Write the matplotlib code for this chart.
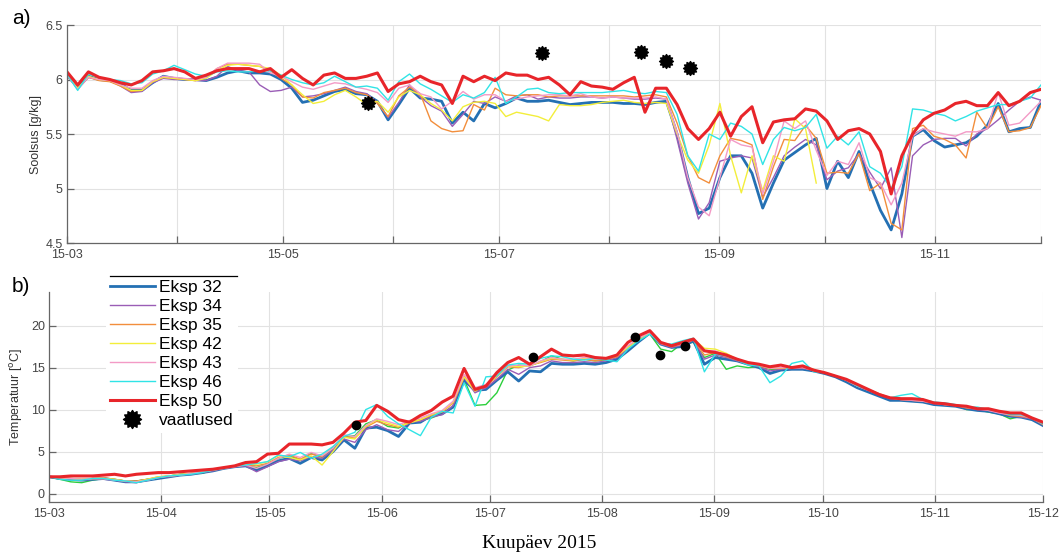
import numpy as np
import pandas as pd
import matplotlib
matplotlib.use("Agg")
import matplotlib.pyplot as plt
from matplotlib.lines import Line2D
from matplotlib.path import Path

plt.rcParams['font.family'] = ['Liberation Sans', 'DejaVu Sans']

nan = np.nan

# ---------------------------------------------------------------- data
# model output sampled every ~3 days, 1 Mar 2015 -> 1 Dec 2015
dates = pd.date_range('2015-03-01', '2015-12-01', periods=92)

series_labels = ['Eksp 32', 'Eksp 34', 'Eksp 35', 'Eksp 42', 'Eksp 43', 'Eksp 46', 'Eksp 50']

# salinity [g/kg]
sal_32 = [6.04, 5.93, 6.03, 6.00, 5.99, 5.96, 5.90, 5.90, 5.97, 6.03,
          6.01, 6.00, 6.00, 5.99, 6.02, 6.06, 6.08, 6.06, 6.06, 6.05,
          6.00, 5.92, 5.79, 5.81, 5.85, 5.89, 5.91, 5.87, 5.86, 5.80,
          5.63, 5.77, 5.92, 5.83, 5.82, 5.80, 5.60, 5.70, 5.62, 5.78,
          5.74, 5.78, 5.83, 5.80, 5.80, 5.81, 5.79, 5.77, 5.78, 5.79,
          5.79, 5.79, 5.78, 5.78, 5.77, 5.79, 5.80, 5.50, 5.10, 4.77,
          4.82, 5.10, 5.30, 5.30, 5.14, 4.82, 5.05, 5.26, 5.33, 5.40,
          5.46, 5.00, 5.25, 5.10, 5.34, 5.05, 4.80, 4.62, 4.95, 5.48,
          5.54, 5.44, 5.38, 5.40, 5.42, 5.48, 5.58, 5.78, 5.52, 5.55,
          5.56, 5.80]
sal_34 = [6.04, 5.91, 6.02, 6.00, 5.99, 5.94, 5.88, 5.89, 5.97, 6.01,
          6.00, 6.00, 5.99, 5.99, 6.03, 6.12, 6.08, 6.07, 5.95, 5.89,
          5.90, 5.93, 5.84, 5.85, 5.87, 5.90, 5.93, 5.89, 5.87, 5.79,
          5.65, 5.79, 5.95, 5.84, 5.76, 5.71, 5.57, 5.68, 5.80, 5.78,
          5.84, 5.80, 5.85, 5.86, 5.82, 5.84, 5.83, 5.83, 5.84, 5.84,
          5.83, 5.84, 5.83, 5.82, 5.82, 5.83, 5.82, 5.45, 5.05, 4.72,
          4.87, 5.25, 5.28, 5.30, 5.28, 4.92, 5.10, 5.30, 5.38, 5.45,
          5.40, 5.08, 5.16, 5.19, 5.32, 5.15, 5.00, 5.19, 4.55, 5.30,
          5.40, 5.45, 5.46, 5.46, 5.39, 5.50, 5.55, 5.63, 5.72, 5.80,
          5.84, 5.81]
sal_35 = [6.04, 5.92, 6.02, 5.99, 5.98, 5.94, 5.89, 5.90, 5.98, 6.02,
          6.01, 6.00, 5.99, 6.02, 6.10, 6.14, 6.14, 6.13, 6.12, 6.08,
          6.01, 5.95, 5.84, 5.83, 5.88, 5.90, 5.92, 5.88, 5.86, 5.78,
          5.66, 5.85, 5.93, 5.87, 5.62, 5.55, 5.52, 5.53, 5.77, 5.72,
          5.92, 5.86, 5.85, 5.86, 5.86, 5.84, 5.85, 5.85, 5.85, 5.85,
          5.85, 5.85, 5.85, 5.84, 5.85, 5.86, 5.84, 5.60, 5.30, 5.10,
          5.05, 5.30, 5.46, 5.44, 5.40, 4.90, 5.20, 5.45, 5.44, 5.58,
          5.46, 5.14, 5.15, 5.14, 5.32, 4.98, 5.05, 4.68, 4.62, 5.55,
          5.58, 5.48, 5.45, 5.40, 5.28, 5.70, 5.55, 5.75, 5.52, 5.53,
          5.56, 5.76]
sal_42 = [6.04, 5.92, 6.03, 6.00, 5.99, 5.95, 5.90, 5.90, 5.98, 6.02,
          6.01, 6.00, 5.99, 6.01, 6.08, 6.13, 6.14, 6.13, 6.12, 6.10,
          6.04, 5.95, 5.86, 5.78, 5.80, 5.86, 5.90, 5.84, 5.77, 5.80,
          5.70, 5.84, 5.90, 5.86, 5.78, 5.72, 5.62, 5.75, 5.79, 5.80,
          5.78, 5.66, 5.70, 5.68, 5.66, 5.62, 5.77, 5.76, 5.76, 5.77,
          5.79, 5.80, 5.81, 5.79, 5.78, 5.79, 5.78, 5.50, 5.26, 5.14,
          5.40, 5.78, 5.30, 4.96, 5.30, 4.98, 5.30, 5.25, 5.64, 5.55,
          5.05, nan, nan, nan, nan, nan, nan, nan, nan, nan,
          nan, nan, nan, nan, nan, nan, nan, nan, nan, nan,
          nan, nan]
sal_43 = [6.04, 5.91, 6.02, 6.00, 5.99, 5.95, 5.92, 5.92, 5.99, 6.03,
          6.02, 6.01, 6.00, 6.02, 6.10, 6.15, 6.15, 6.15, 6.14, 6.06,
          6.03, 5.98, 5.93, 5.91, 5.94, 5.97, 5.96, 5.93, 5.91, 5.88,
          5.79, 5.92, 5.95, 5.87, 5.84, 5.73, 5.80, 5.89, 5.82, 5.86,
          5.86, 5.80, 5.82, 5.84, 5.85, 5.86, 5.86, 5.85, 5.87, 5.84,
          5.83, 5.84, 5.83, 5.83, 5.83, 5.84, 5.82, 5.52, 5.10, 4.83,
          4.75, 5.10, 5.45, 5.40, 5.38, 4.95, 5.25, 5.62, 5.55, 5.62,
          5.35, 5.12, 5.25, 5.22, 5.42, 5.10, 5.05, 4.85, 5.05, 5.48,
          5.55, 5.52, 5.50, 5.48, 5.52, 5.52, 5.55, 5.88, 5.58, 5.60,
          5.70, 5.80]
sal_46 = [6.05, 5.90, 6.05, 6.02, 6.00, 5.99, 5.96, 5.97, 6.05, 6.08,
          6.13, 6.09, 6.05, 6.03, 6.07, 6.08, 6.07, 6.07, 6.08, 6.08,
          6.04, 6.00, 5.97, 5.95, 5.97, 6.03, 5.98, 5.93, 5.94, 5.92,
          5.81, 5.98, 6.05, 5.96, 5.91, 5.85, 5.79, 5.86, 5.83, 5.88,
          6.02, 5.78, 5.84, 5.91, 5.92, 5.88, 5.87, 5.88, 5.88, 5.88,
          5.88, 5.89, 5.90, 5.88, 5.87, 5.89, 5.88, 5.68, 5.30, 5.16,
          5.50, 5.45, 5.60, 5.57, 5.50, 5.22, 5.45, 5.56, 5.53, 5.56,
          5.68, 5.37, 5.48, 5.40, 5.52, 5.20, 5.14, 5.00, 5.20, 5.73,
          5.72, 5.69, 5.67, 5.62, 5.66, 5.71, 5.74, 5.77, 5.77, 5.80,
          5.83, 5.95]
sal_50 = [6.07, 5.95, 6.07, 6.02, 6.00, 5.97, 5.95, 5.99, 6.07, 6.08,
          6.10, 6.07, 6.01, 6.04, 6.08, 6.10, 6.10, 6.10, 6.07, 6.10,
          6.02, 6.09, 6.01, 5.95, 6.04, 6.06, 6.01, 6.01, 6.03, 6.06,
          5.89, 5.96, 5.98, 6.03, 5.98, 5.95, 5.78, 6.03, 5.98, 6.03,
          5.99, 6.06, 6.04, 6.04, 6.00, 6.02, 5.95, 5.86, 5.98, 5.94,
          5.93, 5.91, 5.97, 6.02, 5.70, 5.92, 5.92, 5.77, 5.55, 5.45,
          5.55, 5.70, 5.48, 5.66, 5.75, 5.42, 5.61, 5.63, 5.64, 5.73,
          5.71, 5.62, 5.45, 5.53, 5.55, 5.50, 5.34, 4.95, 5.30, 5.50,
          5.63, 5.69, 5.72, 5.78, 5.80, 5.76, 5.76, 5.88, 5.76, 5.80,
          5.88, 5.91]

# temperature [degC]
temp_32 = [2.0, 1.8, 1.7, 1.6, 1.7, 1.8, 1.6, 1.4, 1.4, 1.6,
           1.8, 2.0, 2.2, 2.3, 2.5, 2.7, 3.0, 3.2, 3.3, 2.8,
           3.3, 3.9, 4.2, 3.6, 4.3, 4.0, 5.0, 6.4, 5.4, 7.8,
           7.9, 7.5, 6.8, 8.4, 8.5, 9.3, 9.5, 10.3, 13.5, 12.3,
           12.4, 13.5, 14.5, 13.4, 14.6, 14.5, 15.5, 15.4, 15.4, 15.5,
           15.4, 15.6, 16.0, 17.0, 18.1, 19.1, 17.8, 17.4, 17.5, 18.2,
           15.4, 16.2, 16.0, 15.8, 15.4, 15.0, 14.3, 14.7, 14.8, 14.8,
           14.6, 14.3, 13.9, 13.3, 12.6, 12.1, 11.6, 11.1, 11.1, 11.0,
           10.9, 10.6, 10.5, 10.4, 10.1, 9.9, 9.8, 9.5, 9.2, 9.1,
           8.8, 8.1]
temp_34 = [2.0, 1.8, 1.7, 1.6, 1.7, 1.7, 1.6, 1.4, 1.3, 1.6,
           1.9, 2.0, 2.2, 2.3, 2.5, 2.7, 3.0, 3.2, 3.3, 2.6,
           3.2, 3.8, 4.1, 3.9, 4.4, 4.2, 5.2, 6.5, 6.1, 7.6,
           8.2, 7.6, 7.4, 8.5, 8.6, 9.1, 9.4, 10.5, 13.8, 12.0,
           12.6, 13.6, 14.8, 14.2, 15.0, 15.2, 15.8, 15.6, 15.6, 15.7,
           15.6, 15.8, 16.2, 17.2, 18.3, 19.2, 17.8, 17.4, 17.7, 18.3,
           16.0, 16.5, 16.2, 15.8, 15.4, 15.1, 14.6, 14.8, 14.9, 14.9,
           14.7, 14.4, 14.0, 13.5, 12.8, 12.3, 11.8, 11.3, 11.2, 11.1,
           11.0, 10.7, 10.6, 10.5, 10.2, 10.0, 9.9, 9.6, 9.3, 9.1,
           8.9, 8.2]
temp_35 = [2.0, 1.9, 1.8, 1.7, 1.8, 1.9, 1.7, 1.5, 1.5, 1.7,
           2.0, 2.1, 2.2, 2.4, 2.6, 2.8, 3.1, 3.3, 3.4, 3.3,
           3.6, 4.3, 4.6, 4.1, 4.7, 4.4, 5.5, 6.8, 6.6, 7.9,
           8.6, 8.2, 7.9, 8.6, 8.8, 9.3, 9.7, 10.8, 14.0, 12.3,
           12.8, 13.9, 15.1, 15.0, 15.3, 15.6, 16.0, 15.9, 15.8, 16.0,
           15.8, 16.0, 16.3, 17.5, 18.4, 19.2, 17.9, 17.5, 17.8, 18.3,
           16.5, 16.8, 16.3, 15.9, 15.5, 15.2, 14.9, 14.9, 15.0, 15.0,
           14.7, 14.4, 14.0, 13.5, 12.8, 12.4, 11.9, 11.4, 11.2, 11.1,
           11.0, 10.8, 10.6, 10.5, 10.2, 10.1, 10.0, 9.7, 9.3, 9.2,
           9.0, 8.2]
temp_42 = [2.0, 1.9, 1.8, 1.7, 1.8, 1.8, 1.7, 1.5, 1.4, 1.7,
           2.0, 2.1, 2.3, 2.4, 2.6, 2.8, 3.1, 3.3, 3.5, 3.5,
           3.8, 4.5, 4.3, 4.0, 4.5, 3.4, 5.0, 6.7, 6.5, 8.0,
           8.8, 8.4, 8.0, 8.4, 8.8, 9.4, 9.8, 10.9, 13.9, 12.2,
           12.9, 14.0, 15.2, 15.1, 15.2, 15.7, 16.1, 16.0, 15.9, 16.1,
           16.0, 16.1, 16.4, 17.4, 18.3, 19.1, 17.9, 17.6, 17.9, 18.4,
           17.3, 17.2, 16.7, 16.0, 15.6, 15.3, 15.0, 15.0, 15.0, 15.1,
           14.8, nan, nan, nan, nan, nan, nan, nan, nan, nan,
           nan, nan, nan, nan, nan, nan, nan, nan, nan, nan,
           nan, nan]
temp_43 = [2.0, 1.9, 1.8, 1.7, 1.8, 1.8, 1.6, 1.5, 1.4, 1.6,
           1.9, 2.1, 2.2, 2.4, 2.6, 2.8, 3.0, 3.2, 3.4, 3.0,
           3.5, 4.2, 4.7, 4.3, 4.9, 4.5, 5.4, 7.0, 6.8, 8.1,
           8.9, 8.6, 8.2, 8.7, 9.0, 9.5, 9.9, 11.0, 14.2, 12.6,
           13.0, 14.1, 15.2, 15.3, 15.2, 15.8, 16.2, 16.0, 16.0, 16.2,
           16.0, 16.1, 16.5, 17.6, 18.5, 19.2, 17.9, 17.6, 17.8, 18.4,
           17.0, 17.0, 16.4, 16.0, 15.5, 15.3, 14.9, 15.0, 15.0, 15.0,
           14.7, 14.4, 14.0, 13.5, 12.8, 12.3, 11.8, 11.4, 11.2, 11.1,
           11.0, 10.8, 10.6, 10.5, 10.3, 10.1, 9.9, 9.6, 9.4, 9.3,
           9.0, 8.3]
temp_46 = [2.0, 1.7, 1.6, 1.6, 1.8, 1.8, 1.6, 1.5, 1.3, 1.6,
           1.9, 2.1, 2.2, 2.3, 2.5, 2.8, 3.0, 3.3, 3.4, 3.6,
           3.8, 4.6, 4.4, 4.9, 4.2, 4.7, 5.6, 6.8, 7.3, 10.0,
           10.6, 9.2, 8.3, 7.6, 6.9, 9.1, 9.8, 9.6, 13.2, 10.4,
           13.9, 14.0, 15.3, 15.5, 15.4, 16.1, 16.4, 16.3, 16.0, 15.9,
           16.1, 15.9, 15.7, 17.2, 18.2, 19.0, 17.9, 17.8, 18.2, 18.5,
           14.5, 16.6, 16.4, 15.9, 15.3, 15.2, 13.2, 14.0, 15.5, 15.8,
           14.5, 14.4, 14.0, 13.6, 12.8, 12.4, 11.8, 11.4, 11.7, 11.9,
           11.2, 10.9, 10.8, 10.6, 10.3, 10.3, 10.0, 9.8, 9.4, 9.4,
           9.0, 8.3]
temp_50 = [2.0, 2.0, 2.1, 2.1, 2.1, 2.2, 2.3, 2.1, 2.3, 2.4,
           2.5, 2.5, 2.6, 2.7, 2.8, 2.9, 3.1, 3.3, 3.7, 3.8,
           4.7, 4.8, 5.9, 5.9, 5.9, 5.8, 6.1, 7.2, 8.5, 8.7,
           10.5, 9.8, 8.8, 8.5, 9.3, 9.9, 10.9, 11.6, 14.9, 12.4,
           12.8, 14.4, 15.6, 16.2, 15.4, 16.3, 17.2, 16.5, 16.4, 16.5,
           16.2, 16.1, 16.5, 18.0, 18.8, 19.4, 18.0, 17.6, 18.0, 18.4,
           17.0, 16.8, 16.5, 16.0, 15.6, 15.4, 15.1, 15.3, 15.0, 15.2,
           14.7, 14.4, 14.0, 13.6, 13.0, 12.4, 11.8, 11.4, 11.3, 11.3,
           11.2, 10.8, 10.7, 10.5, 10.4, 10.1, 10.1, 9.8, 9.6, 9.6,
           9.0, 8.5]
# an extra run shown in the temperature panel without a legend entry
temp_extra = [2.0, 1.7, 1.4, 1.3, 1.6, 1.8, 1.7, 1.5, 1.5, 1.7,
              1.9, 2.1, 2.3, 2.4, 2.4, 2.8, 3.0, 3.2, 3.3, 3.1,
              3.5, 4.2, 4.5, 4.0, 4.8, 4.3, 5.3, 6.8, 6.9, 8.3,
              8.8, 8.0, 7.8, 8.6, 8.7, 9.0, 9.5, 10.3, 13.6, 10.5,
              10.6, 12.0, 14.7, 15.3, 15.2, 15.7, 16.4, 16.0, 15.8, 16.0,
              15.8, 15.9, 16.4, 17.4, 18.4, 19.0, 17.2, 16.9, 17.9, 18.0,
              16.2, 16.7, 14.8, 15.2, 15.0, 15.1, 14.8, 14.8, 14.9, 14.8,
              14.6, 14.4, 14.0, 13.3, 12.7, 12.2, 11.7, 11.2, 11.1, 11.0,
              10.9, 10.7, 10.6, 10.5, 10.0, 10.0, 9.7, 9.5, 8.9, 9.2,
              8.8, 8.2]

# field observations
obs_dates = pd.to_datetime(['2015-05-25', '2015-07-13', '2015-08-10', '2015-08-17', '2015-08-24'])
obs_salinity = [5.78, 6.24, 6.25, 6.17, 6.11]
obs_temperature = [8.2, 16.3, 18.7, 16.5, 17.6]

# ---------------------------------------------------------------- style
salinity = [sal_32, sal_34, sal_35, sal_42, sal_43, sal_46, sal_50]
temperature = [temp_32, temp_34, temp_35, temp_42, temp_43, temp_46, temp_50]
line_colors = ['#2470b3', '#9a5db6', '#f28e3c', '#f3ee3a', '#f39ac6', '#30e4e6', '#e8252a']
line_widths = [2.0, 1.0, 1.0, 1.0, 1.0, 1.0, 2.2]
extra_color = '#2ccf3c'

grid_col = '#e2e2e2'
axis_col = '#666666'
tick_txt = '#444444'

star = Path.unit_regular_star(12, 0.72)

W, H = 1061, 553
fig = plt.figure(figsize=(W / 100, H / 100), dpi=100)


def px_axes(x0, y0, x1, y1):
    return fig.add_axes([x0 / W, 1 - y1 / H, (x1 - x0) / W, (y1 - y0) / H])


ax1 = px_axes(67, 25, 1041, 243)
ax2 = px_axes(49, 292, 1043, 502)

months = pd.date_range('2015-03-01', '2015-12-01', freq='MS')
month_labels = [m.strftime('%y-%m') for m in months]

for ax in (ax1, ax2):
    ax.set_xlim(months[0], months[-1])
    ax.set_xticks(months)
    ax.grid(True, color=grid_col, lw=0.8)
    ax.set_axisbelow(True)
    for s in ('top', 'right'):
        ax.spines[s].set_visible(False)
    for s in ('left', 'bottom'):
        ax.spines[s].set_color(axis_col)
        ax.spines[s].set_linewidth(0.9)
    ax.tick_params(direction='in', length=5, width=0.9, color=axis_col,
                   labelcolor=tick_txt, labelsize=9)
    ax.tick_params(axis='x', pad=4.5)
    ax.tick_params(axis='y', pad=3)

# salinity panel
for vals, c, lw in zip(salinity, line_colors, line_widths):
    ax1.plot(dates, vals, color=c, lw=lw, solid_joinstyle='round')
ax1.plot(obs_dates, obs_salinity, ls='none', marker=star, ms=10, color='black')
ax1.set_ylim(4.5, 6.5)
ax1.set_yticks([4.5, 5, 5.5, 6, 6.5])
ax1.set_yticklabels(['4.5', '5', '5.5', '6', '6.5'])
ax1.set_xticklabels([lab if i % 2 == 0 else '' for i, lab in enumerate(month_labels)])
ax1.set_ylabel('Soolsus [g/kg]', fontsize=9, color='#333333')
ax1.yaxis.set_label_coords(-0.026, 0.5)

# temperature panel
ax2.plot(dates, temp_extra, color=extra_color, lw=1.0)
handles = []
for vals, c, lw, lab in zip(temperature, line_colors, line_widths, series_labels):
    h, = ax2.plot(dates, vals, color=c, lw=lw, label=lab, solid_joinstyle='round')
    handles.append(h)
ax2.plot(obs_dates, obs_temperature, ls='none', marker='o', ms=6, color='black')
ax2.set_ylim(-1, 24)
ax2.set_yticks([0, 5, 10, 15, 20])
ax2.set_xticklabels(month_labels)
ax2.set_ylabel('Temperatuur [$^{\\rm o}$C]', fontsize=9, color='#333333')
ax2.yaxis.set_label_coords(-0.024, 0.5)

obs_handle = Line2D([], [], ls='none', marker=star, ms=13, color='black')
leg = ax2.legend(handles + [obs_handle], series_labels + ['vaatlused'],
                 loc='upper left', bbox_to_anchor=(106 / W, 1 - 276 / H),
                 bbox_transform=fig.transFigure, frameon=True, fancybox=False,
                 edgecolor='none', facecolor='white', framealpha=1,
                 borderpad=0.25, borderaxespad=0, handlelength=2.55,
                 handletextpad=0.25, labelspacing=0.22, fontsize=12.5)
leg.set_zorder(10)
fig.add_artist(Line2D([110 / W, 237 / W], [1 - 276 / H] * 2, color='black', lw=0.9))

# panel tags and common x label
fig.text(12 / W, 1 - 19 / H, 'a)', fontsize=15, va='center', ha='left')
fig.text(12 / W, 1 - 286 / H, 'b)', fontsize=15, va='center', ha='left')
fig.text(539 / W, 1 - 543 / H, 'Kuupäev 2015', fontsize=14, ha='center', va='center',
         family=['Liberation Serif', 'DejaVu Serif'])

fig.savefig('out.png', dpi=100)
